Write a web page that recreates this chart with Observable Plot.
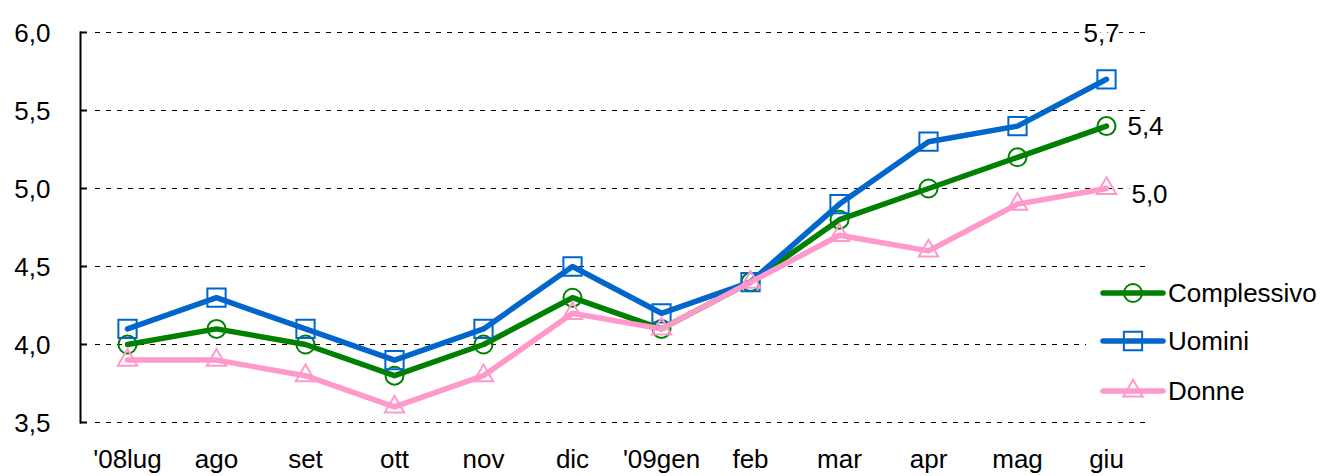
<!DOCTYPE html>
<html><head><meta charset="utf-8">
<script src="https://cdn.jsdelivr.net/npm/d3@7"></script>
<script src="https://cdn.jsdelivr.net/npm/@observablehq/plot@0.6"></script>
<style>
body{margin:0;background:#fff;font-family:"Liberation Sans",Arial,sans-serif}
#wrap{position:relative;width:1325px;height:476px;overflow:hidden}
#legend{position:absolute;left:1086px;top:272px}
</style>
</head><body><div id="wrap"></div>
<script>
const months = ["'08lug","ago","set","ott","nov","dic","'09gen","feb","mar","apr","mag","giu"];
const complessivo = [4.0,4.1,4.0,3.8,4.0,4.3,4.1,4.4,4.8,5.0,5.2,5.4];
const uomini = [4.1,4.3,4.1,3.9,4.1,4.5,4.2,4.4,4.9,5.3,5.4,5.7];
const donne = [3.9,3.9,3.8,3.6,3.8,4.2,4.1,4.4,4.7,4.6,4.9,5.0];
const seriesNames = ["Complessivo","Uomini","Donne"];
const seriesColors = ["#008000","#0066CC","#FF99CC"];
const seriesSymbols = ["circle","square","triangle"];
const yTicks = [3.5,4.0,4.5,5.0,5.5,6.0];

const FS = 26;
const fmt = d => d.toFixed(1).replace(".", ",");
const seriesValues = [complessivo, uomini, donne];
const series = seriesNames.map((name,k)=>({
  name, color: seriesColors[k], symbol: seriesSymbols[k],
  data: months.map((m,i)=>({m, v: seriesValues[k][i]}))
}));
const symR = {circle: 9, square: 10.3, triangle: 7.2};

const W = 1325, H = 476, mL = 80, mR = 172;
const frameW = W - mL - mR;

const lastLabels = [
  {s: 1, dx: -5, dy: -46},
  {s: 0, dx: 39, dy: 1},
  {s: 2, dx: 43, dy: 6}
];

const marks = [
  Plot.ruleY(yTicks, {stroke:"#000", strokeWidth:1, strokeDasharray:"5,6", insetLeft:15, insetRight:6}),
  Plot.ruleY(yTicks, {stroke:"#000", strokeWidth:2, insetRight: frameW - 7}),
  Plot.frame({anchor:"left", stroke:"#000", strokeWidth:2}),
  Plot.axisY(yTicks, {tickSize:0, tickPadding:30, tickFormat: fmt, fontSize:FS, dy:1}),
  Plot.axisX({tickSize:0, tickPadding:27, fontSize:FS})
];
for (const s of series) {
  marks.push(Plot.line(s.data, {x:"m", y:"v", stroke:s.color, strokeWidth:5.5, strokeLinejoin:"round", strokeLinecap:"round"}));
  marks.push(Plot.dot(s.data, {x:"m", y:"v", stroke:s.color, strokeWidth:2, fill:"none", symbol:s.symbol, r:symR[s.symbol]}));
}
for (const l of lastLabels) {
  const s = series[l.s];
  const last = s.data[s.data.length-1];
  marks.push(Plot.text([last], {x:"m", y:"v", text: d=>fmt(d.v), dx:l.dx, dy:l.dy, fontSize:FS, fill:"#000", stroke:"#fff", strokeWidth:8}));
}

const chart = Plot.plot({
  width: W, height: H,
  marginLeft: mL, marginRight: mR, marginTop: 32, marginBottom: 54,
  style: {fontFamily:"'Liberation Sans', Arial, sans-serif", fontSize:FS+"px", color:"#000", background:"#fff", overflow:"visible"},
  x: {type:"point", domain: months, padding:0.5, label:null},
  y: {domain:[3.5,6.0], label:null},
  marks
});
const wrap = document.getElementById("wrap");
wrap.appendChild(chart);

// legend overlay
const leg = d3.select(wrap).append("svg").attr("id","legend")
  .attr("width", 239).attr("height", 140);
leg.append("rect").attr("width",239).attr("height",140).attr("fill","#fff");
const rows = [21, 69, 119];
series.forEach((s,k)=>{
  const g = leg.append("g").attr("transform", `translate(0,${rows[k]})`);
  g.append("line").attr("x1",17).attr("x2",77).attr("stroke",s.color).attr("stroke-width",5.5).attr("stroke-linecap","round");
  const sym = {circle:d3.symbolCircle, square:d3.symbolSquare, triangle:d3.symbolTriangle}[s.symbol];
  const r = symR[s.symbol];
  g.append("path").attr("d", d3.symbol(sym, Math.PI*r*r)()).attr("transform","translate(47,0)")
    .attr("fill","none").attr("stroke",s.color).attr("stroke-width",2);
  g.append("text").attr("x",82).attr("y",9).attr("font-size",FS)
    .attr("font-family","'Liberation Sans', Arial, sans-serif").attr("fill","#000").text(s.name);
});
</script>
</body></html>
